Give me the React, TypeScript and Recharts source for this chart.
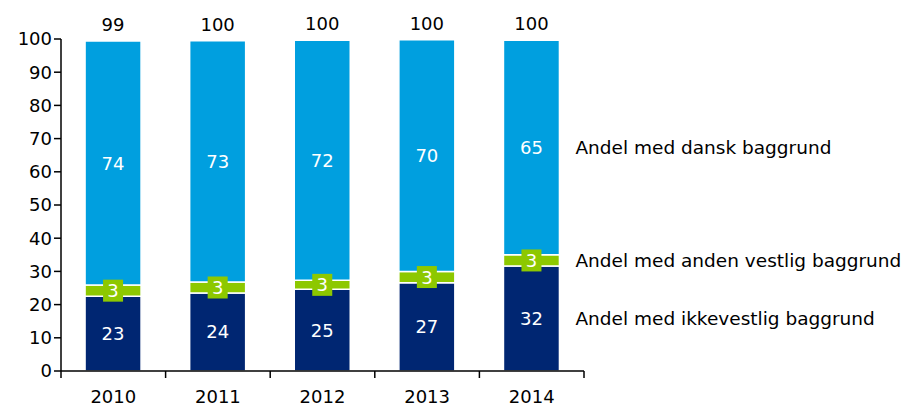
import React from "react";
import { BarChart, Bar, XAxis, YAxis, LabelList } from "recharts";

const years = ["2010", "2011", "2012", "2013", "2014"];
const ikkevestlig = [22.5, 23.5, 24.6, 26.6, 31.6];
const vestlig = [3.4, 3.3, 2.7, 3.4, 3.4];
const dansk = [73.5, 72.7, 72.3, 69.8, 64.6];
const seriesNames = [
    "Andel med ikkevestlig baggrund",
    "Andel med anden vestlig baggrund",
    "Andel med dansk baggrund",
];
const yTicks = [0, 10, 20, 30, 40, 50, 60, 70, 80, 90, 100];

const NAVY = "#002672";
const GREEN = "#8DC800";
const BLUE = "#009FDF";
const FONT = "'DejaVu Sans', Verdana, sans-serif";
const FS = 18;

const W = 904;
const H = 408;
const MARGIN = { top: 39, right: 320, bottom: 0, left: 0 };
const Y_WIDTH = 61;
const BAND = (W - MARGIN.right - MARGIN.left - Y_WIDTH) / years.length;

const data = years.map((year, i) => ({
    year,
    ikke: ikkevestlig[i],
    vest: vestlig[i],
    dansk: dansk[i],
    total: ikkevestlig[i] + vestlig[i] + dansk[i],
}));

// white value inside a segment
const InnerLabel = (props: any) => {
    const { x, y, width, height, value } = props;
    return (
        <text x={x + width / 2} y={y + height / 2} textAnchor="middle" dominantBaseline="central"
            fill="#fff" fontSize={FS} fontFamily={FONT}>
            {Math.round(value)}
        </text>
    );
};

// green box label for the thin middle segment
const BoxLabel = (props: any) => {
    const { x, y, width, height, value } = props;
    const cx = x + width / 2;
    const cy = y + height / 2;
    return (
        <g>
            <rect x={cx - 10} y={cy - 11} width={20} height={22} fill={GREEN} />
            <text x={cx} y={cy} textAnchor="middle" dominantBaseline="central"
                fill="#fff" fontSize={FS} fontFamily={FONT}>
                {Math.round(value)}
            </text>
        </g>
    );
};

const TotalLabel = (props: any) => {
    const { x, y, width, index } = props;
    return (
        <text x={x + width / 2} y={y - 10} textAnchor="middle" fill="#000" fontSize={FS} fontFamily={FONT}>
            {Math.round(data[index].total)}
        </text>
    );
};

const nameLabel = (name: string) => (props: any) => {
    const { x, y, width, height, index } = props;
    if (index !== years.length - 1) return null;
    return (
        <text x={x + width + 16} y={y + height / 2} dominantBaseline="central" fill="#000"
            fontSize={18.5} fontFamily={FONT}>
            {name}
        </text>
    );
};

// category label plus tick marks on the category boundaries
const XTick = (props: any) => {
    const { x, y, payload, index } = props;
    const left = x - BAND / 2;
    const right = x + BAND / 2;
    return (
        <g>
            <line x1={left} x2={left} y1={y} y2={y + 7} stroke="#000" strokeWidth={1.5} />
            {index === years.length - 1 && (
                <line x1={right} x2={right} y1={y} y2={y + 7} stroke="#000" strokeWidth={1.5} />
            )}
            <text x={x} y={y + 32} textAnchor="middle" fill="#000" fontSize={FS} fontFamily={FONT}>
                {payload.value}
            </text>
        </g>
    );
};

export default function App() {
    return (
        <div style={{ position: "absolute", left: 0, top: 0, background: "#fff", fontFamily: FONT }}>
            <BarChart width={W} height={H} data={data} margin={MARGIN} barCategoryGap="23%">
                <XAxis
                    dataKey="year"
                    axisLine={{ stroke: "#000", strokeWidth: 1.5 }}
                    tickLine={false}
                    tickSize={0}
                    tickMargin={0}
                    height={37}
                    interval={0}
                    tick={<XTick />}
                />
                <YAxis
                    domain={[0, 100]}
                    ticks={yTicks}
                    width={Y_WIDTH}
                    tickSize={7}
                    tickMargin={2}
                    axisLine={{ stroke: "#000", strokeWidth: 1.5 }}
                    tickLine={{ stroke: "#000", strokeWidth: 1.5 }}
                    tick={{ fill: "#000", fontSize: FS, fontFamily: FONT }}
                />
                <Bar dataKey="ikke" stackId="a" fill={NAVY} stroke="#fff" strokeWidth={1.5} isAnimationActive={false}>
                    <LabelList dataKey="ikke" content={InnerLabel} />
                    <LabelList dataKey="ikke" content={nameLabel(seriesNames[0])} />
                </Bar>
                <Bar dataKey="vest" stackId="a" fill={GREEN} stroke="#fff" strokeWidth={1.5} isAnimationActive={false}>
                    <LabelList dataKey="vest" content={BoxLabel} />
                    <LabelList dataKey="vest" content={nameLabel(seriesNames[1])} />
                </Bar>
                <Bar dataKey="dansk" stackId="a" fill={BLUE} stroke="#fff" strokeWidth={1.5} isAnimationActive={false}>
                    <LabelList dataKey="dansk" content={InnerLabel} />
                    <LabelList dataKey="dansk" content={nameLabel(seriesNames[2])} />
                    <LabelList dataKey="total" content={TotalLabel} />
                </Bar>
            </BarChart>
        </div>
    );
}
